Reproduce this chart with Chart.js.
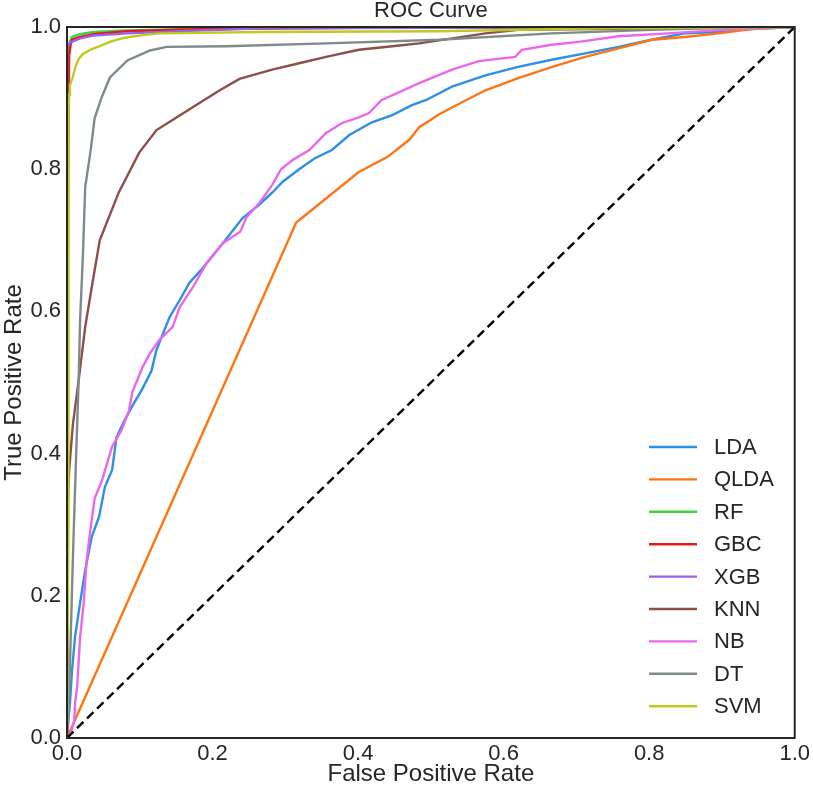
<!DOCTYPE html>
<html>
<head>
<meta charset="utf-8">
<title>ROC Curve</title>
<script src="https://cdn.jsdelivr.net/npm/chart.js@4/dist/chart.umd.min.js"></script>
<style>
  html, body { margin: 0; padding: 0; background: #fff; }
  canvas { display: block; }
</style>
</head>
<body>
<canvas id="roc-chart" width="813" height="790"></canvas>
<script>
'use strict';

// ***** DATA *****

let chartTitle = 'ROC Curve';
let modelNames = ['LDA', 'QLDA', 'RF', 'GBC', 'XGB', 'KNN', 'NB', 'DT', 'SVM'];
let modelColors = ['#2f8fe6', '#ff7415', '#3bd43b', '#e3191b', '#9b62e8', '#8c4f4a', '#ec67ec', '#7f8a8a', '#bccc1e'];
let tickValues = [0, 0.2, 0.4, 0.6, 0.8, 1.0];

let ldaFpr = [0, 0.004, 0.007, 0.011, 0.018, 0.025, 0.034, 0.044, 0.052, 0.062, 0.068, 0.079, 0.092, 0.103, 0.116, 0.123, 0.141, 0.155, 0.168, 0.184, 0.212, 0.241, 0.264, 0.283, 0.296, 0.319, 0.340, 0.364, 0.388, 0.419, 0.447, 0.474, 0.493, 0.529, 0.575, 0.620, 0.666, 0.712, 0.758, 0.803, 0.849, 0.895, 0.918, 0.960, 1];
let ldaTpr = [0, 0.049, 0.096, 0.142, 0.190, 0.236, 0.283, 0.311, 0.353, 0.377, 0.423, 0.447, 0.471, 0.490, 0.516, 0.546, 0.592, 0.616, 0.640, 0.658, 0.693, 0.731, 0.750, 0.768, 0.782, 0.800, 0.815, 0.827, 0.848, 0.866, 0.876, 0.890, 0.897, 0.916, 0.932, 0.944, 0.954, 0.963, 0.972, 0.982, 0.991, 0.993, 0.996, 0.998, 1];

let qldaFpr = [0, 0.315, 0.401, 0.440, 0.470, 0.484, 0.511, 0.548, 0.575, 0.620, 0.667, 0.712, 0.758, 0.804, 0.849, 0.895, 0.941, 1];
let qldaTpr = [0, 0.725, 0.796, 0.817, 0.841, 0.859, 0.877, 0.897, 0.911, 0.928, 0.944, 0.958, 0.970, 0.982, 0.986, 0.991, 0.997, 1];

let rfFpr = [0, 0, 0.004, 0.007, 0.018, 0.036, 0.082, 0.200, 0.400, 1];
let rfTpr = [0, 0.950, 0.980, 0.986, 0.990, 0.993, 0.995, 0.998, 0.999, 1];

let gbcFpr = [0, 0.001, 0.002, 0.003, 0.005, 0.007, 0.018, 0.036, 0.082, 0.180, 0.400, 1];
let gbcTpr = [0, 0.600, 0.880, 0.960, 0.975, 0.982, 0.986, 0.990, 0.994, 0.997, 0.999, 1];

let xgbFpr = [0, 0, 0.004, 0.018, 0.036, 0.082, 0.180, 0.270, 0.500, 1];
let xgbTpr = [0, 0.970, 0.978, 0.984, 0.988, 0.991, 0.995, 0.998, 0.999, 1];

let knnFpr = [0, 0, 0.003, 0.008, 0.016, 0.025, 0.034, 0.045, 0.071, 0.099, 0.123, 0.151, 0.182, 0.210, 0.237, 0.282, 0.319, 0.356, 0.401, 0.447, 0.484, 0.575, 0.620, 1];
let knnTpr = [0, 0.300, 0.377, 0.440, 0.503, 0.578, 0.634, 0.700, 0.767, 0.823, 0.855, 0.873, 0.893, 0.911, 0.927, 0.940, 0.949, 0.958, 0.968, 0.973, 0.977, 0.991, 0.996, 1];

let nbFpr = [0, 0.006, 0.010, 0.011, 0.014, 0.018, 0.023, 0.027, 0.032, 0.038, 0.048, 0.062, 0.075, 0.085, 0.090, 0.104, 0.114, 0.127, 0.145, 0.155, 0.173, 0.192, 0.214, 0.238, 0.247, 0.264, 0.282, 0.294, 0.310, 0.333, 0.356, 0.378, 0.401, 0.415, 0.432, 0.484, 0.529, 0.566, 0.616, 0.625, 0.666, 0.703, 0.758, 0.826, 0.900, 1];
let nbTpr = [0, 0.010, 0.025, 0.049, 0.072, 0.142, 0.190, 0.250, 0.292, 0.337, 0.362, 0.410, 0.433, 0.460, 0.487, 0.522, 0.541, 0.560, 0.578, 0.606, 0.634, 0.668, 0.696, 0.712, 0.733, 0.752, 0.778, 0.800, 0.813, 0.827, 0.851, 0.865, 0.873, 0.879, 0.897, 0.921, 0.940, 0.952, 0.958, 0.968, 0.975, 0.979, 0.987, 0.991, 0.996, 1];

let dtFpr = [0, 0.004, 0.008, 0.012, 0.016, 0.018, 0.022, 0.025, 0.032, 0.036, 0.038, 0.045, 0.048, 0.059, 0.083, 0.114, 0.137, 0.219, 0.356, 0.511, 0.666, 0.803, 0.900, 1];
let dtTpr = [0, 0.100, 0.250, 0.380, 0.503, 0.588, 0.682, 0.775, 0.823, 0.855, 0.872, 0.893, 0.902, 0.929, 0.953, 0.967, 0.972, 0.973, 0.977, 0.982, 0.991, 0.996, 0.999, 1];

let svmFpr = [0, 0.002, 0.002, 0.003, 0.004, 0.008, 0.012, 0.016, 0.022, 0.034, 0.045, 0.059, 0.075, 0.086, 0.107, 0.127, 0.264, 0.511, 0.730, 1];
let svmTpr = [0, 0.300, 0.880, 0.905, 0.918, 0.930, 0.945, 0.955, 0.962, 0.969, 0.973, 0.979, 0.984, 0.986, 0.989, 0.991, 0.993, 0.994, 0.998, 1];

let chanceFpr = [0, 1];
let chanceTpr = [0, 1];

let allFpr = [ldaFpr, qldaFpr, rfFpr, gbcFpr, xgbFpr, knnFpr, nbFpr, dtFpr, svmFpr];
let allTpr = [ldaTpr, qldaTpr, rfTpr, gbcTpr, xgbTpr, knnTpr, nbTpr, dtTpr, svmTpr];


// ***** HELPERS *****

let fontFamily = '"Liberation Sans", Arial, Helvetica, sans-serif';
let textColor = '#262626';

function toPoints(xs, ys) {
    let pts = [];
    for (let i = 0; i < xs.length; i++) {
        pts.push({ x: xs[i], y: ys[i] });
    }
    return pts;
}

let datasets = [];
for (let i = 0; i < modelNames.length; i++) {
    datasets.push({
        label: modelNames[i],
        data: toPoints(allFpr[i], allTpr[i]),
        borderColor: modelColors[i],
        borderWidth: 2.4,
        pointRadius: 0,
        tension: 0,
        fill: false,
        // later models sit on top, like matplotlib
        order: modelNames.length + 1 - i
    });
}

datasets.push({
    label: 'chance',
    data: toPoints(chanceFpr, chanceTpr),
    borderColor: '#000',
    borderWidth: 2.4,
    borderDash: [9, 5],
    pointRadius: 0,
    fill: false,
    order: 0
});


// ***** PLUGINS *****

// box round the plot area
let framePlugin = {
    id: 'frame',
    afterDatasetsDraw(chart) {
        let a = chart.chartArea;
        let c = chart.ctx;
        c.save();
        c.strokeStyle = textColor;
        c.lineWidth = 2;
        c.strokeRect(a.left, a.top, a.right - a.left, a.bottom - a.top);
        c.restore();
    }
};

// title centred over the axes, not the whole canvas
let titlePlugin = {
    id: 'axesTitle',
    afterDraw(chart) {
        let a = chart.chartArea;
        let c = chart.ctx;
        c.save();
        c.font = '22px ' + fontFamily;
        c.fillStyle = textColor;
        c.textAlign = 'center';
        c.textBaseline = 'middle';
        c.fillText(chartTitle, (a.left + a.right) / 2, 11);
        c.restore();
    }
};

// legend in the lower right, inside the axes
let legendPlugin = {
    id: 'cornerLegend',
    afterDraw(chart) {
        let c = chart.ctx;
        let lineX0 = 649;
        let lineX1 = 697;
        let textX = 714;
        let firstY = 447;
        let rowGap = 32.4;
        c.save();
        c.font = '22px ' + fontFamily;
        c.textBaseline = 'middle';
        c.fillStyle = textColor;
        for (let i = 0; i < modelNames.length; i++) {
            let y = firstY + i * rowGap;
            c.strokeStyle = modelColors[i];
            c.lineWidth = 2.4;
            c.beginPath();
            c.moveTo(lineX0, y);
            c.lineTo(lineX1, y);
            c.stroke();
            c.fillText(modelNames[i], textX, y + 1);
        }
        c.restore();
    }
};


// ***** CHART *****

let ctx = document.getElementById('roc-chart');

new Chart(ctx, {
    type: 'line',
    data: { datasets: datasets },
    options: {
        responsive: false,
        animation: false,
        devicePixelRatio: 1,
        layout: { padding: { left: 0, right: 16, top: 27, bottom: 0 } },
        plugins: {
            legend: { display: false },
            tooltip: { enabled: false },
            title: { display: false }
        },
        scales: {
            x: {
                type: 'linear',
                min: 0,
                max: 1,
                grid: { display: false, drawTicks: false },
                border: { display: false },
                afterBuildTicks(scale) {
                    scale.ticks = tickValues.map(v => ({ value: v }));
                },
                ticks: {
                    color: textColor,
                    font: { family: fontFamily, size: 22 },
                    padding: 3,
                    maxRotation: 0,
                    callback: v => v.toFixed(1)
                },
                title: {
                    display: true,
                    text: 'False Positive Rate',
                    color: textColor,
                    font: { family: fontFamily, size: 24 },
                    padding: { top: 0, bottom: 1 }
                },
                afterFit(scale) {
                    scale.height = 52;
                }
            },
            y: {
                type: 'linear',
                min: 0,
                max: 1,
                grid: { display: false, drawTicks: false },
                border: { display: false },
                afterBuildTicks(scale) {
                    scale.ticks = tickValues.map(v => ({ value: v }));
                },
                ticks: {
                    color: textColor,
                    font: { family: fontFamily, size: 22 },
                    padding: 6,
                    callback: v => v.toFixed(1)
                },
                title: {
                    display: true,
                    text: 'True Positive Rate',
                    color: textColor,
                    font: { family: fontFamily, size: 24 },
                    padding: { top: 0, bottom: 0 }
                },
                afterFit(scale) {
                    scale.width = 67;
                }
            }
        }
    },
    plugins: [framePlugin, titlePlugin, legendPlugin]
});
</script>
</body>
</html>
